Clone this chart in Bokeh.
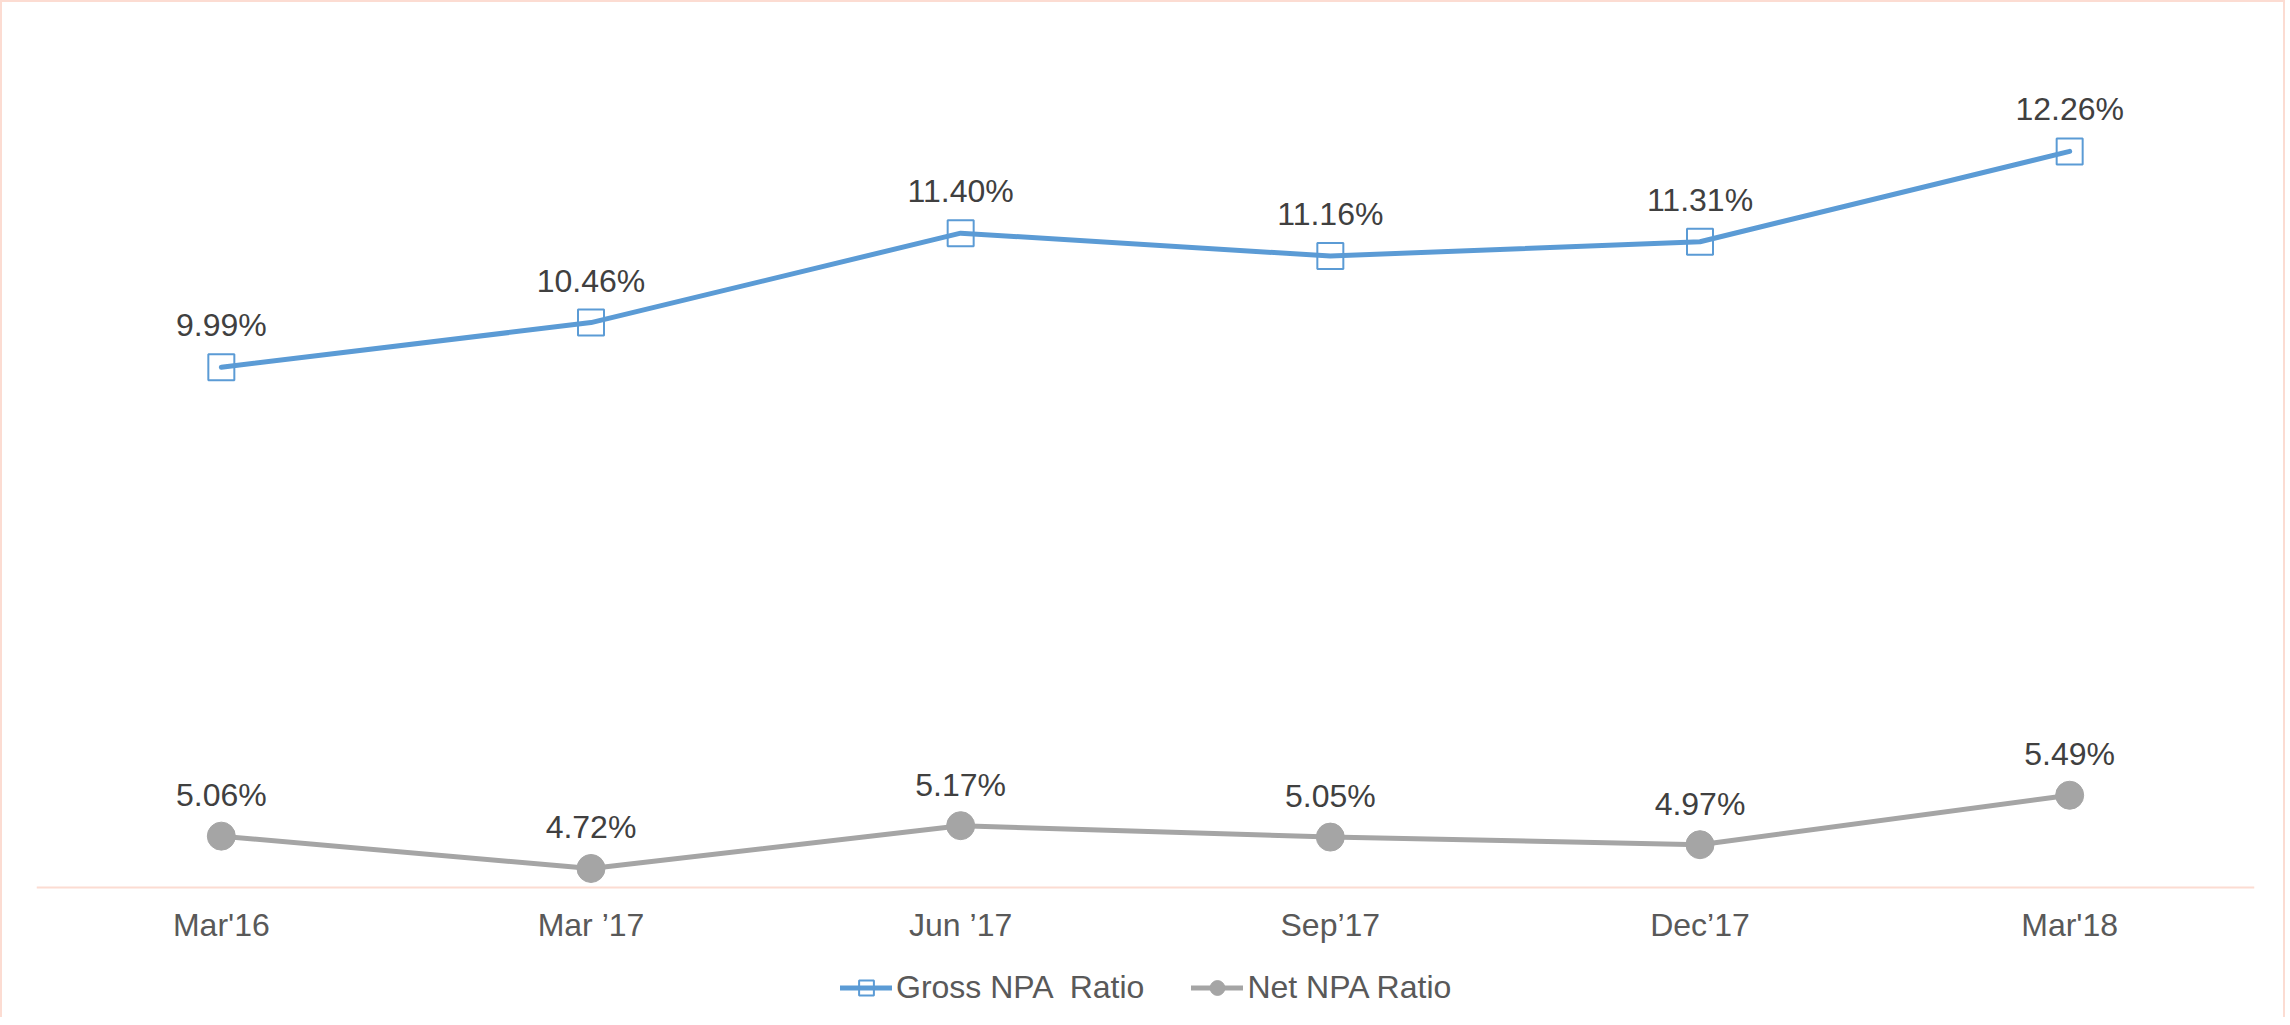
from bokeh.plotting import figure
from bokeh.models import ColumnDataSource, Range1d, FactorRange, Legend, LegendItem
from bokeh.core.properties import value
from bokeh.embed import file_html
from bokeh.resources import INLINE

categories = ["Mar'16", "Mar \u201917", "Jun \u201917", "Sep\u201917", "Dec\u201917", "Mar'18"]
gross_npa = [9.99, 10.46, 11.40, 11.16, 11.31, 12.26]
net_npa = [5.06, 4.72, 5.17, 5.05, 4.97, 5.49]
gross_labels = ["9.99%", "10.46%", "11.40%", "11.16%", "11.31%", "12.26%"]
net_labels = ["5.06%", "4.72%", "5.17%", "5.05%", "4.97%", "5.49%"]
axis_floor = 4.52

BLUE = "#5B9BD5"
GREY = "#A5A5A5"
PEACH = "#FCDCD2"
FONT = "Liberation Sans"

src = ColumnDataSource(dict(cat=categories, gross=gross_npa, net=net_npa,
                            gl=gross_labels, nl=net_labels))

p = figure(x_range=FactorRange(*categories), y_range=Range1d(3.153, 13.531),
           frame_width=2218, frame_height=987,
           min_border_left=34, min_border_right=29, min_border_top=28, min_border_bottom=0,
           output_backend="svg", toolbar_location=None)
p.styles = {"border-top": f"2px solid {PEACH}", "border-left": f"2px solid {PEACH}",
            "border-right": f"2px solid {PEACH}"}
p.outline_line_color = None
p.xgrid.visible = False
p.ygrid.visible = False
p.yaxis.visible = False
p.background_fill_color = "white"
p.border_fill_color = "white"

ax = p.xaxis[0]
ax.fixed_location = axis_floor
ax.axis_line_color = PEACH
ax.axis_line_width = 2
ax.major_tick_line_color = None
ax.minor_tick_line_color = None
ax.major_label_text_font = FONT
ax.major_label_text_font_size = "32px"
ax.major_label_text_color = "#595959"
ax.major_label_standoff = 14

g_mk = p.scatter("cat", "gross", source=src, marker="square", size=26,
                 fill_alpha=0, line_color=BLUE, line_width=2)
g_ln = p.line("cat", "gross", source=src, line_color=BLUE, line_width=5, line_cap="round")
n_ln = p.line("cat", "net", source=src, line_color=GREY, line_width=5, line_cap="round")
n_mk = p.scatter("cat", "net", source=src, marker="circle", size=28,
                 fill_color=GREY, line_color=GREY)

p.text("cat", "gross", text="gl", source=src, y_offset=-42, text_align="center",
       text_baseline="middle", text_font=value(FONT), text_font_size="32px",
       text_color="#404040")
p.text("cat", "net", text="nl", source=src, y_offset=-41, text_align="center",
       text_baseline="middle", text_font=value(FONT), text_font_size="32px",
       text_color="#404040")

legend = Legend(items=[LegendItem(label="Gross NPA  Ratio", renderers=[g_ln, g_mk]),
                       LegendItem(label="Net NPA Ratio", renderers=[n_ln, n_mk])],
                orientation="horizontal", location=(804, 11),
                label_text_font=FONT, label_text_font_size="32px",
                label_text_color="#595959", glyph_width=52, glyph_height=37,
                label_standoff=4, spacing=47, padding=0, margin=0,
                border_line_color=None, background_fill_alpha=0)
p.add_layout(legend, "center")

open("out.html", "w").write(file_html(p, INLINE))
